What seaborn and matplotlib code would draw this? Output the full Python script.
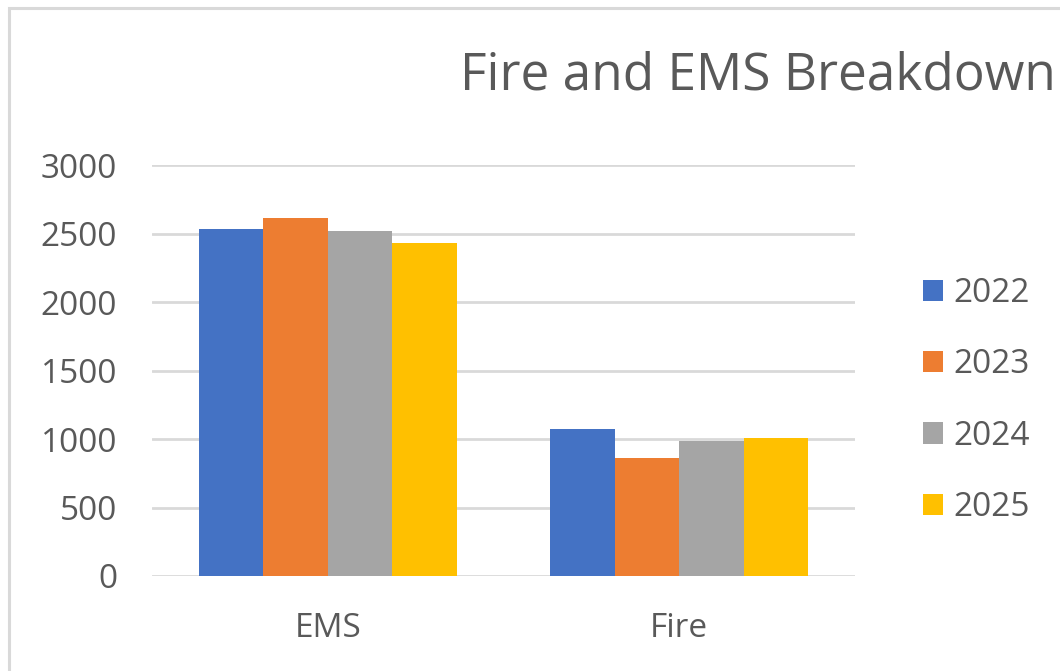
import pandas as pd
import matplotlib.pyplot as plt
import seaborn as sns
from matplotlib.patches import Rectangle

# chart data
categories = ["EMS", "Fire"]
years = ["2022", "2023", "2024", "2025"]
ems_values = [2535, 2610, 2520, 2428]
fire_values = [1070, 860, 982, 1010]
y_ticks = [0, 500, 1000, 1500, 2000, 2500, 3000]
colors = ["#4472C4", "#ED7D31", "#A5A5A5", "#FFC000"]

rows = []
for i, yr in enumerate(years):
    rows.append({"category": "EMS", "year": yr, "value": ems_values[i]})
    rows.append({"category": "Fire", "year": yr, "value": fire_values[i]})
df = pd.DataFrame(rows)

sns.set_style("white")
plt.rcParams["font.family"] = ["Open Sans", "DejaVu Sans"]
text_color = "#595959"

fig = plt.figure(figsize=(10.6, 6.71), dpi=100)
ax = fig.add_axes([152 / 1060, 1 - 576 / 671, 703 / 1060, 411 / 671])

sns.barplot(data=df, x="category", y="value", hue="year", order=categories,
            hue_order=years, palette=colors, saturation=1, width=0.733,
            linewidth=0, errorbar=None, ax=ax)

ax.set_xlim(-0.5, 1.5)
ax.set_ylim(0, 3000)
ax.set_yticks(y_ticks)
ax.set_yticklabels([str(t) for t in y_ticks])
ax.yaxis.grid(True, color="#d9d9d9", linewidth=2)
ax.set_axisbelow(True)
for s in ax.spines.values():
    s.set_visible(False)
ax.tick_params(axis="both", length=0, labelsize=24, colors=text_color)
ax.tick_params(axis="y", pad=25)
ax.tick_params(axis="x", pad=26)
ax.set_xlabel("")
ax.set_ylabel("")

leg = ax.legend(loc="center left", bbox_to_anchor=(1.078, 0.427), frameon=False,
                fontsize=24, handlelength=0.6, handleheight=0.6,
                handletextpad=0.3, labelspacing=1.15, borderaxespad=0)
for t in leg.get_texts():
    t.set_color(text_color)

fig.text(460 / 1060, 1 - 76 / 671, "Fire and EMS Breakdown", fontsize=37,
         color=text_color, ha="left", va="center")

# light frame of the chart area
fig.patches.append(Rectangle((9 / 1060, -0.1), 1.2, 1 - 8 / 671 + 0.1,
                             transform=fig.transFigure, fill=False,
                             edgecolor="#d9d9d9", linewidth=2.2))

fig.savefig("out.png", dpi=100, facecolor="white")
